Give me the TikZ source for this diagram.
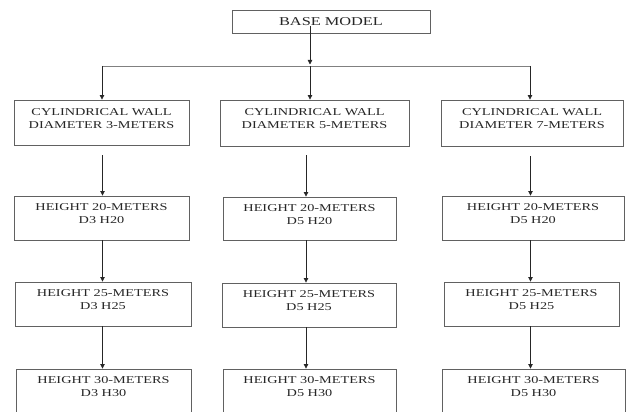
\documentclass[tikz,border=0pt]{standalone}
\usepackage{fontspec}
\setmainfont{Liberation Serif}[FakeStretch=1.36]
\usetikzlibrary{arrows.meta}
\definecolor{boxline}{gray}{0.38}
\definecolor{arrline}{gray}{0.15}
\definecolor{hline}{gray}{0.5}
\tikzset{
  box/.style={draw=boxline, line width=0.9pt, rectangle, inner sep=0pt},
  txt/.style={anchor=north, inner sep=0pt, align=center, font=\fontsize{10.5}{13.5}\selectfont, text=black!85},
  arr/.style={draw=arrline, line width=0.8pt, -{Triangle[length=4.5pt,width=4.5pt]}},
  plain/.style={draw=hline, line width=0.9pt}
}
\begin{document}
\begin{tikzpicture}[x=1pt,y=-1pt]
\useasboundingbox (0,0) rectangle (627,412);
\clip (0,0) rectangle (627,412);
% base
\node[box, minimum width=198pt, minimum height=23pt, font=\fontsize{12}{14}\selectfont, text=black!85] (base) at (331,21.5) {BASE MODEL};
% level 1
\node[box, minimum width=175pt, minimum height=45pt] (L1) at (101.5,122.5) {};
\node[box, minimum width=189pt, minimum height=46pt] (M1) at (314.5,123) {};
\node[box, minimum width=182pt, minimum height=46pt] (R1) at (532,123) {};
% level 2
\node[box, minimum width=175pt, minimum height=44pt] (L2) at (101.5,218) {};
\node[box, minimum width=173pt, minimum height=43pt] (M2) at (309.5,218.5) {};
\node[box, minimum width=182pt, minimum height=44pt] (R2) at (533,218) {};
% level 3
\node[box, minimum width=176pt, minimum height=44pt] (L3) at (103,304) {};
\node[box, minimum width=174pt, minimum height=44pt] (M3) at (309,305) {};
\node[box, minimum width=175pt, minimum height=44pt] (R3) at (531.5,304) {};
% level 4
\node[box, minimum width=175pt, minimum height=52pt] (L4) at (103.5,395) {};
\node[box, minimum width=173pt, minimum height=52pt] (M4) at (309.5,395) {};
\node[box, minimum width=183pt, minimum height=52pt] (R4) at (533.5,395) {};
% texts
\node[txt] (tL1) at ([yshift=-8.5pt]L1.north) {CYLINDRICAL WALL\\DIAMETER 3-METERS};
\node[txt] (tM1) at ([yshift=-8.5pt]M1.north) {CYLINDRICAL WALL\\DIAMETER 5-METERS};
\node[txt] (tR1) at ([yshift=-8.5pt]R1.north) {CYLINDRICAL WALL\\DIAMETER 7-METERS};
\node[txt] (tL2) at ([yshift=-7.5pt]L2.north) {HEIGHT 20-METERS\\D3 H20};
\node[txt] (tM2) at ([yshift=-7.5pt]M2.north) {HEIGHT 20-METERS\\D5 H20};
\node[txt] (tR2) at ([yshift=-7.5pt]R2.north) {HEIGHT 20-METERS\\D5 H20};
\node[txt] (tL3) at ([yshift=-7.5pt]L3.north) {HEIGHT 25-METERS\\D3 H25};
\node[txt] (tM3) at ([yshift=-7.5pt]M3.north) {HEIGHT 25-METERS\\D5 H25};
\node[txt] (tR3) at ([yshift=-7.5pt]R3.north) {HEIGHT 25-METERS\\D5 H25};
\node[txt] (tL4) at ([yshift=-7.5pt]L4.north) {HEIGHT 30-METERS\\D3 H30};
\node[txt] (tM4) at ([yshift=-7.5pt]M4.north) {HEIGHT 30-METERS\\D5 H30};
\node[txt] (tR4) at ([yshift=-7.5pt]R4.north) {HEIGHT 30-METERS\\D5 H30};
% connector coordinates
\coordinate (bstart) at (310,26);
\coordinate (hl) at (102,66);
\coordinate (hm) at (310,66);
\coordinate (hr) at (530,66);
\coordinate (cL) at (102.5,0);
\coordinate (cM) at (306,0);
\coordinate (cR) at (530.5,0);
% top distribution
\draw[plain] (hl) -- (hr);
\draw[arr] (bstart) -- ([yshift=1.5pt]hm);
\draw[arr] (hl) -- (L1.north -| hl);
\draw[arr] (hm) -- (M1.north -| hm);
\draw[arr] (hr) -- (R1.north -| hr);
% columns
\draw[arr] ([yshift=-10pt]L1.south -| cL) -- (L2.north -| cL);
\draw[arr] (L2.south -| cL) -- (L3.north -| cL);
\draw[arr] (L3.south -| cL) -- (L4.north -| cL);
\draw[arr] ([yshift=-9pt]M1.south -| cM) -- (M2.north -| cM);
\draw[arr] (M2.south -| cM) -- (M3.north -| cM);
\draw[arr] (M3.south -| cM) -- (M4.north -| cM);
\draw[arr] ([yshift=-10pt]R1.south -| cR) -- (R2.north -| cR);
\draw[arr] (R2.south -| cR) -- (R3.north -| cR);
\draw[arr] (R3.south -| cR) -- (R4.north -| cR);
\end{tikzpicture}
\end{document}
